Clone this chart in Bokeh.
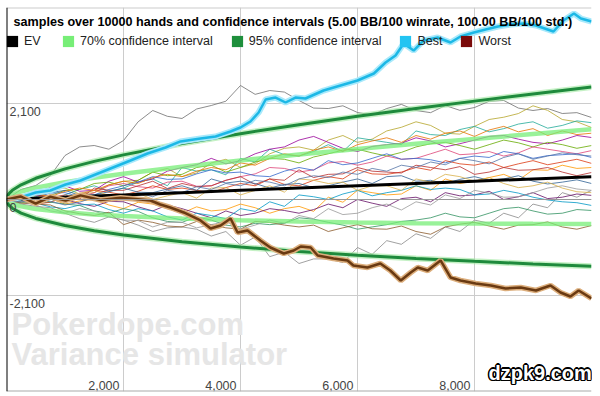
from bokeh.plotting import figure
from bokeh.models import (Range1d, Grid, FixedTicker, Span, Label, Legend,
                          LegendItem)
from bokeh.core.properties import value
from bokeh.embed import file_html
from bokeh.resources import INLINE

FONT = "Liberation Sans"

# ---------------- data ----------------
x_ticks = [2000, 4000, 6000, 8000]
x_tick_labels = ["2,000", "4,000", "6,000", "8,000"]
y_grid = [-4200, -2100, 0, 2100, 4200]
y_ticks = [2100, 0, -2100]
y_tick_labels = ["2,100", "0", "-2,100"]

ci_hands = [0, 25, 50, 100, 250, 500, 1000, 1500, 2000, 3000, 4000, 5000,
            6000, 7000, 8000, 9000, 10000]
ev_line = [0, 1, 2, 5, 12, 25, 50, 75, 100, 150, 200, 250, 300, 350, 400, 450, 500]
ci70_hi = [0, 53, 76, 109, 176, 257, 377, 476, 563, 718, 855, 982, 1103, 1217,
           1326, 1433, 1536]
ci70_lo = [0, -51, -71, -99, -151, -207, -277, -326, -363, -418, -455, -482,
           -503, -517, -526, -533, -536]
ci95_hi = [0, 99, 141, 201, 322, 464, 670, 834, 976, 1224, 1440, 1636, 1819,
           1990, 2152, 2310, 2460]
ci95_lo = [0, -97, -136, -191, -297, -414, -570, -684, -776, -924, -1040,
           -1136, -1219, -1290, -1352, -1410, -1460]

best_hands = [0, 240, 500, 750, 1010, 1265, 1607, 1864, 2120, 2410, 2720, 2975,
              3317, 3574, 3830, 4000, 4170, 4310, 4430, 4600, 4770, 4940, 5110,
              5420, 5710, 6000, 6280, 6480, 6650, 6790, 6960, 7130, 7370, 7590,
              7760, 7990, 8190, 8400, 8620, 8840, 9050, 9350, 9520, 9700, 9820,
              10000]
best_bb = [0, 44, 153, 197, 328, 416, 590, 722, 853, 1006, 1137, 1270, 1334,
           1378, 1487, 1575, 1706, 1903, 2187, 2231, 2122, 2231, 2209, 2384,
           2494, 2603, 2756, 2997, 3150, 3412, 3259, 3478, 3544, 3434, 3566,
           3653, 3719, 3784, 3828, 3850, 3806, 3675, 3916, 4069, 3959, 3894]

worst_hands = [0, 240, 500, 750, 1010, 1265, 1607, 1950, 2205, 2460, 2630, 2800,
               3030, 3317, 3490, 3660, 3830, 3950, 4120, 4340, 4510, 4740, 4910,
               5030, 5200, 5320, 5590, 5830, 5930, 6170, 6390, 6560, 6740, 6910,
               7030, 7200, 7420, 7590, 7760, 8020, 8280, 8530, 8790, 9050, 9300,
               9470, 9640, 9780, 10000]
worst_bb = [0, 66, -88, 60, -22, 90, -10, 40, 10, -22, -109, -175, -284, -459,
            -634, -569, -416, -722, -678, -897, -1050, -1181, -1116, -1028,
            -1050, -1225, -1290, -1334, -1444, -1487, -1400, -1553, -1772,
            -1597, -1487, -1553, -1334, -1706, -1772, -1838, -1881, -1947,
            -1925, -1990, -1881, -2034, -2122, -1990, -2166]

walk_hands = [0, 250, 500, 750, 1000, 1250, 1500, 1750, 2000, 2250, 2500, 2750,
              3000, 3250, 3500, 3750, 4000, 4250, 4500, 4750, 5000, 5250, 5500,
              5750, 6000, 6250, 6500, 6750, 7000, 7250, 7500, 7750, 8000, 8250,
              8500, 8750, 9000, 9250, 9500, 9750, 10000]
walk_01 = [0, 220, 306, 520, 962, 1150, 1181, 1100, 1290, 1700, 1947, 1820, 1772,
           1980, 2056, 2150, 2494, 2300, 2384, 2350, 2166, 2000, 1990, 2050, 1903,
           1850, 1990, 2080, 1947, 1900, 2056, 1950, 2012, 2150, 2166, 2000, 1947,
           1990, 1881, 1900, 1794]
walk_02 = [0, -40, 120, 230, 250, 120, 150, 320, 400, 420, 600, 680, 500, 580,
           800, 880, 700, 780, 1000, 1120, 1150, 1080, 1300, 1400, 1250, 1320,
           1500, 1580, 1700, 1620, 1450, 1430, 1600, 1750, 1800, 1880, 2050, 1950,
           1750, 1700, 1575]
walk_03 = [0, 40, -80, -60, 100, 220, 300, 180, 250, 380, 450, 300, 700, 620,
           650, 540, 900, 820, 1100, 980, 950, 1050, 1200, 1050, 1350, 1300, 1250,
           1200, 1500, 1420, 1400, 1530, 1600, 1480, 1550, 1650, 1700, 1560, 1620,
           1720, 1680]
walk_04 = [0, 60, 150, 260, 300, 180, 200, 400, 500, 380, 450, 620, 700, 760,
           900, 780, 850, 1000, 1100, 1150, 1300, 1380, 1250, 1120, 1050, 1160,
           1200, 1230, 1350, 1280, 1150, 1220, 1300, 1380, 1400, 1320, 1250, 1220,
           1300, 1400, 1356]
walk_05 = [0, -70, -50, 90, 200, 220, 350, 380, 300, 420, 600, 520, 550, 700,
           750, 600, 700, 820, 900, 880, 800, 930, 1000, 1080, 1100, 1020, 950,
           1030, 1150, 1220, 1250, 1180, 1100, 1200, 1300, 1240, 1150, 1250, 1200,
           1120, 1180]
walk_06 = [0, 80, 100, 20, -50, 40, 150, 300, 350, 280, 250, 380, 400, 290, 300,
           420, 500, 560, 700, 680, 600, 650, 800, 830, 750, 820, 950, 880, 900,
           1000, 1100, 980, 1000, 1050, 950, 1020, 1150, 1100, 1050, 1000, 1070]
walk_07 = [0, -30, 50, 140, 150, 60, 100, 220, 300, 380, 500, 440, 450, 560, 650,
           580, 600, 520, 500, 620, 700, 640, 850, 760, 800, 900, 1000, 880, 900,
           870, 800, 900, 950, 920, 1050, 1000, 900, 960, 980, 1000, 920]
walk_08 = [0, -20, -100, -60, 50, 120, 200, 160, 100, 180, 300, 220, 250, 200,
           150, 260, 350, 300, 450, 330, 300, 420, 500, 450, 650, 560, 550, 600,
           700, 640, 850, 780, 750, 820, 700, 780, 850, 760, 820, 880, 790]
walk_09 = [0, 60, 80, 20, -100, -30, 0, -120, -200, -60, -100, -200, -300, -160,
           -250, -220, -100, -180, -300, -200, -150, -260, 50, -60, 200, 150, 100,
           120, 300, 200, 450, 350, 400, 480, 550, 420, 650, 640, 750, 680, 700]
walk_10 = [0, 30, -50, 40, 100, 10, 250, 200, 200, 300, 400, 240, 350, 280, 300,
           420, 500, 330, 450, 420, 650, 480, 550, 560, 700, 620, 600, 580, 750,
           700, 650, 720, 550, 600, 700, 640, 650, 700, 600, 520, 590]
walk_11 = [0, -40, 60, 150, 200, 90, 100, 170, 250, 160, 150, 230, 300, 200, 450,
           360, 400, 350, 250, 330, 350, 260, 300, 380, 450, 350, 500, 520, 400,
           420, 350, 440, 500, 420, 450, 520, 400, 340, 380, 430, 350]
walk_12 = [0, -100, -150, -180, -300, -420, -500, -380, -450, -560, -700, -620,
           -600, -650, -800, -700, -1000, -820, -1250, -1150, -1400, -1300, -1300,
           -1380, -1050, -1200, -900, -980, -750, -850, -600, -700, -450, -520,
           -300, -400, -100, -180, 150, 50, 200]
walk_13 = [0, 40, 100, 80, 0, -90, -150, -40, -50, -160, -250, -120, -200, -300,
           -400, -250, -350, -300, -200, -240, -300, -220, -100, -180, 0, -80,
           -150, 20, 50, -50, 150, 80, 100, 180, 0, 60, 150, 20, 50, 120, 90]
walk_14 = [0, -20, -80, -160, -200, -120, -100, -220, -300, -200, -250, -380,
           -450, -300, -350, -420, -200, -260, -50, -150, 100, 60, 0, 120, 200, 80,
           150, 200, 300, 220, 250, 220, 100, 120, 200, 140, 50, -10, -50, -70,
           -130]
walk_15 = [0, 70, 50, -60, -100, -130, -250, -300, -200, -260, -400, -480, -500,
           -380, -450, -560, -600, -520, -550, -520, -400, -430, -500, -560, -650,
           -600, -550, -480, -450, -400, -300, -380, -400, -300, -200, -170, -250,
           -320, -300, -220, -240]
walk_16 = [0, -80, -100, -120, -250, -310, -350, -280, -550, -450, -500, -580,
           -600, -480, -550, -620, -650, -480, -500, -560, -600, -560, -700, -620,
           -550, -640, -650, -580, -700, -760, -600, -540, -500, -580, -650, -560,
           -550, -490, -600, -650, -570]
walk_17 = [0, -40, -120, -250, -300, -200, -250, -380, -450, -460, -600, -500,
           -500, -620, -550, -480, -650, -560, -450, -520, -350, -420, -200, -330,
           -300, -180, -100, -230, -50, -120, 100, 20, 200, 140, 50, 60, 150, 250,
           300, 230, 200]
walk_18 = [0, 90, 150, 60, 50, 140, 200, 90, 100, 140, 0, 80, 150, 30, 250, 260,
           100, 200, 300, 160, 450, 420, 350, 380, 200, 300, 300, 200, 450, 380,
           550, 500, 400, 480, 350, 260, 300, 380, 250, 170, 150]
walk_19 = [0, 50, 120, 60, 180, 250, 200, 320, 400, 350, 480, 550, 500, 620, 700,
           650, 800, 750, 900, 1000, 950, 1080, 1150, 1050, 1200, 1280, 1350, 1250,
           1400, 1320, 1450, 1500, 1380, 1520, 1600, 1480, 1550, 1400, 1500, 1420,
           1450]
walk_20 = [0, -60, 30, -40, -120, -60, 50, -20, 80, 150, 60, 200, 150, 280, 220,
           350, 300, 420, 380, 300, 450, 520, 480, 600, 550, 680, 620, 750, 700,
           820, 760, 900, 850, 780, 920, 1000, 880, 950, 1020, 980, 950]

walks = [walk_01, walk_02, walk_03, walk_04, walk_05, walk_06, walk_07, walk_08,
         walk_09, walk_10, walk_11, walk_12, walk_13, walk_14, walk_15, walk_16,
         walk_17, walk_18, walk_19, walk_20]
walk_colors = ["#6f6f6f", "#b5a52a", "#22aa99", "#990099", "#66aa00", "#dd4477",
               "#3366cc", "#dc3912", "#ff9900", "#b82e2e", "#316395", "#8a8a8a",
               "#651067", "#0099c6", "#329262", "#8b5a2b", "#9a9a9a", "#d8b04a",
               "#e67300", "#5574a6"]

legend_names = ["EV", "70% confidence interval", "95% confidence interval", "Best", "Worst"]
legend_colors = ["#000000", "#77ee77", "#1e8f3c", "#22c4f2", "#7a0a0a"]

title_text = ("samples over 10000 hands and confidence intervals "
              "(5.00 BB/100 winrate, 100.00 BB/100 std.)")

# ---------------- figure ----------------
p = figure(width=600, height=396, output_backend="svg", toolbar_location=None,
           x_range=Range1d(0, 10000), y_range=Range1d(-4200, 4200),
           x_axis_type=None, y_axis_type=None,
           min_border_left=6, min_border_right=9, min_border_top=7,
           min_border_bottom=5)
p.outline_line_color = None
p.background_fill_color = "white"
p.border_fill_color = "white"

p.add_layout(Grid(dimension=0, ticker=FixedTicker(ticks=x_ticks),
                  grid_line_color="#cccccc"), "center")
p.add_layout(Grid(dimension=1, ticker=FixedTicker(ticks=y_grid),
                  grid_line_color="#cccccc"), "center")
p.add_layout(Span(location=4200, dimension="width", line_color="#cccccc", line_width=2))
p.add_layout(Span(location=-4200, dimension="width", line_color="#aaaaaa", line_width=2))
p.add_layout(Span(location=0, dimension="width", line_color="#999999", line_width=1))
p.add_layout(Span(location=0, dimension="height", line_color="#000000", line_width=2))

# watermark
for txt, yy in [("Pokerdope.com", 50), ("Variance simulator", 20)]:
    p.add_layout(Label(x=5, y=yy, x_units="screen", y_units="screen", text=txt,
                       text_font=FONT, text_font_style="bold", text_font_size="31px",
                       text_color="#e6e6e6", level="underlay"))

# thin sample walks
for w, c in zip(walks, walk_colors):
    p.line(walk_hands, w, line_color=c, line_width=1, line_alpha=0.8)

# confidence intervals
for hi_lo in (ci70_hi, ci70_lo):
    p.line(ci_hands, hi_lo, line_color="#77ee77", line_width=4.5, line_alpha=0.75)
for hi_lo in (ci95_hi, ci95_lo):
    p.line(ci_hands, hi_lo, line_color="#9ee89e", line_width=6, line_alpha=0.6)
    p.line(ci_hands, hi_lo, line_color="#1e8a3c", line_width=3)
p.line(ci_hands, ev_line, line_color="#000000", line_width=3)

# best & worst
p.line(best_hands, best_bb, line_color="#a8e9fb", line_width=6)
p.line(best_hands, best_bb, line_color="#1cb8e6", line_width=2.5)
p.line(worst_hands, worst_bb, line_color="#dcae7c", line_width=5.5)
p.line(worst_hands, worst_bb, line_color="#6a3a12", line_width=2.5)

# tick labels inside the plot
p.text(x=x_ticks, y=[-4200] * len(x_ticks), text=x_tick_labels,
       text_font=value(FONT), text_font_size="12.5px", text_color="#444444",
       text_align="right", text_baseline="bottom", x_offset=-4, y_offset=-2)
p.text(x=[0] * len(y_ticks), y=y_ticks, text=y_tick_labels,
       text_font=value(FONT), text_font_size="12.5px", text_color="#444444",
       text_align="left", text_baseline="top", x_offset=3, y_offset=3)

# title
p.add_layout(Label(x=7, y=370, x_units="screen", y_units="screen", text=title_text,
                   text_font=FONT, text_font_style="bold", text_font_size="12.6px",
                   text_color="#000000", text_baseline="middle"))

# legend (square swatches; dummy renderers lie outside the visible ranges)
items = []
for name, col in zip(legend_names, legend_colors):
    r = p.quad(left=[-3000], right=[-2000], top=[-9000], bottom=[-9500],
               fill_color=col, line_color=None)
    items.append(LegendItem(label=name, renderers=[r]))
leg = Legend(items=items, orientation="horizontal", location=(-1, 343),
             glyph_width=14, glyph_height=14, label_standoff=5, spacing=17,
             padding=0, margin=0, border_line_color=None,
             background_fill_alpha=0, label_text_font=FONT,
             label_text_font_size="12.5px", label_text_color="#222222",
             label_height=14)
p.add_layout(leg, "center")

# site stamp (white with black outline)
for dx, dy in [(-1.5, 0), (1.5, 0), (0, -1.5), (0, 1.5), (-1, -1), (1, 1), (-1, 1), (1, -1)]:
    p.add_layout(Label(x=482 + dx, y=8 + dy, x_units="screen", y_units="screen",
                       text="dzpk9.com", text_font=FONT, text_font_style="bold",
                       text_font_size="20px", text_color="#000000"))
p.add_layout(Label(x=482, y=8, x_units="screen", y_units="screen",
                   text="dzpk9.com", text_font=FONT, text_font_style="bold",
                   text_font_size="20px", text_color="#ffffff"))

open("out.html", "w").write(file_html(p, INLINE))
